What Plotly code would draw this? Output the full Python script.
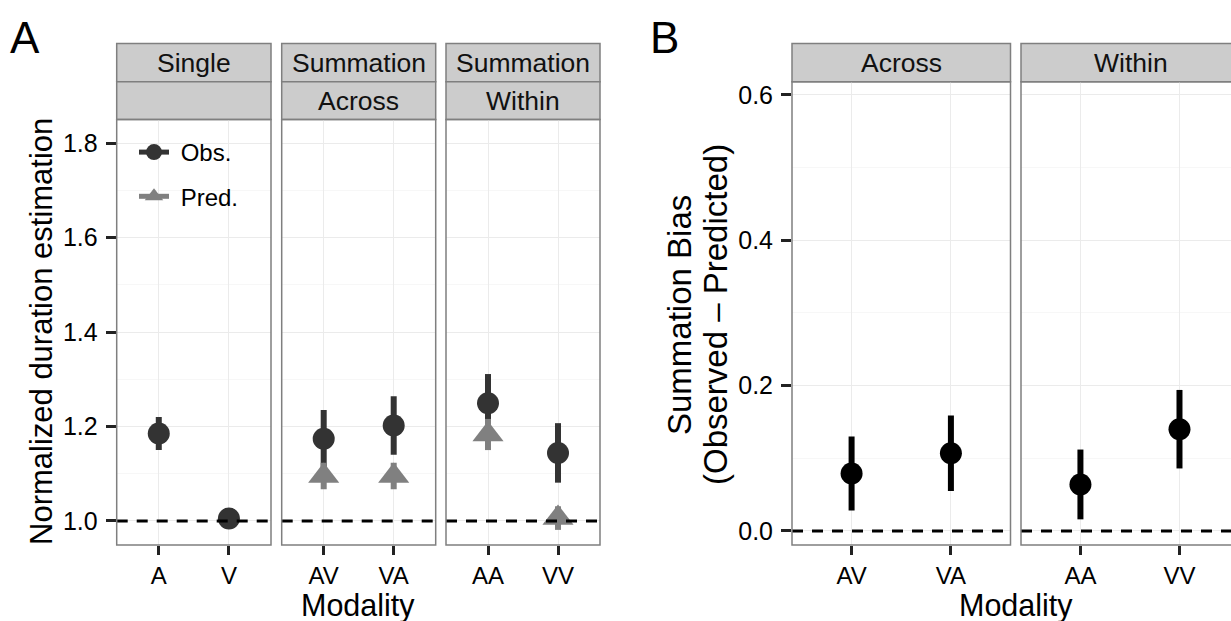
import plotly.graph_objects as go

W, H = 1231, 621

# ---------------- data ----------------
single_cats = ["A", "V"]
single_obs = [1.185, 1.005]
single_obs_err = [0.035, 0.010]

across_cats = ["AV", "VA"]
across_obs = [1.174, 1.202]
across_obs_err = [0.061, 0.062]
across_pred = [1.095, 1.095]
across_pred_err = [0.028, 0.028]

within_cats = ["AA", "VV"]
within_obs = [1.249, 1.144]
within_obs_err = [0.062, 0.063]
within_pred = [1.183, 1.006]
within_pred_err = [0.033, 0.025]

bias_across_cats = ["AV", "VA"]
bias_across = [0.079, 0.107]
bias_across_err = [0.051, 0.052]
bias_within_cats = ["AA", "VV"]
bias_within = [0.064, 0.140]
bias_within_err = [0.048, 0.054]

ref_A = 1.0
ref_B = 0.0

strip_A_top = ["Single", "Summation", "Summation"]
strip_A_bottom = ["", "Across", "Within"]
strip_B = ["Across", "Within"]

# ---------------- style ----------------
FONT = "Liberation Sans, Arial, Helvetica, sans-serif"
OBS = "#333333"
PRED = "#808080"
BORDER = "#7f7f7f"
STRIP = "#cccccc"
GRID = "#ebebeb"
MINOR = "#f7f7f7"
TICKF = 24


def px(x):
    return x / W


def py(y):
    return 1 - y / H


fig = go.Figure()


def pr(x, y, err, color, symbol, size, xa, ya, name=None):
    fig.add_trace(go.Scatter(
        x=x, y=y, mode="markers", xaxis=xa, yaxis=ya, showlegend=False,
        marker=dict(color=color, symbol=symbol, size=size),
        error_y=dict(type="data", array=err, color=color, thickness=6, width=0),
        hoverinfo="x+y", name=name or ""))


pr(single_cats, single_obs, single_obs_err, OBS, "circle", 22, "x", "y", "Obs.")
pr(across_cats, across_obs, across_obs_err, OBS, "circle", 22, "x2", "y2", "Obs.")
pr(across_cats, across_pred, across_pred_err, PRED, "triangle-up", 27, "x2", "y2", "Pred.")
pr(within_cats, within_obs, within_obs_err, OBS, "circle", 22, "x3", "y3", "Obs.")
pr(within_cats, within_pred, within_pred_err, PRED, "triangle-up", 27, "x3", "y3", "Pred.")
pr(bias_across_cats, bias_across, bias_across_err, "#000000", "circle", 22, "x4", "y4")
pr(bias_within_cats, bias_within, bias_within_err, "#000000", "circle", 22, "x5", "y5")

# legend entries
for nm, col, sym, grp in [("\u00a0Obs.", OBS, "circle", "o"), ("\u00a0Pred.", PRED, "triangle-up", "p")]:
    fig.add_trace(go.Scatter(
        x=[None], y=[None], mode="lines+markers", name=nm, legendgroup=grp,
        xaxis="x", yaxis="y", showlegend=True,
        line=dict(color=col, width=5), marker=dict(color=col, symbol=sym, size=20)))

# ---------------- axes ----------------
A_y = (119.5, 545)
B_y = (81.7, 545)
panels = {
    "": ((116.7, 271), A_y, [-0.6, 1.6], single_cats),
    "2": ((281.7, 435.7), A_y, [-0.6, 1.6], across_cats),
    "3": ((446, 600), A_y, [-0.6, 1.6], within_cats),
    "4": ((792, 1010.5), B_y, [-0.6, 1.6], bias_across_cats),
    "5": ((1021, 1231), B_y, [-0.6, 1.52], bias_within_cats),
}

layout = dict(
    width=W, height=H, margin=dict(l=0, r=0, t=0, b=0),
    paper_bgcolor="white", plot_bgcolor="white",
    font=dict(family=FONT, color="#000000"),
    showlegend=True,
    legend=dict(x=px(134), y=py(130), xanchor="left", yanchor="top",
                bgcolor="rgba(0,0,0,0)", font=dict(size=24, family=FONT),
                tracegroupgap=10),
)

for k, ((x0, x1), (yt, yb), xr, cats) in panels.items():
    ax = "xaxis" + k
    ay = "yaxis" + k
    isA = k in ("", "2", "3")
    layout[ax] = dict(
        domain=[px(x0), px(x1)], anchor="y" + k, type="category",
        categoryorder="array", categoryarray=cats, range=xr,
        showgrid=True, gridcolor=GRID, gridwidth=1.2, zeroline=False, showline=False,
        ticks="outside", ticklen=9, tickwidth=2.5, tickcolor="#222222",
        tickfont=dict(size=TICKF, family=FONT, color="#000000"), fixedrange=True,
    )
    showy = k in ("", "4")
    layout[ay] = dict(
        domain=[py(yb), py(yt)], anchor="x" + k,
        range=[0.949, 1.850] if isA else [-0.0193, 0.618],
        dtick=0.2, tick0=0, tickformat=".1f",
        showgrid=True, gridcolor=GRID, gridwidth=1.2, zeroline=False, showline=False,
        minor=dict(dtick=0.1, tick0=0, showgrid=True, gridcolor=MINOR, gridwidth=1.2),
        ticks="outside" if showy else "", ticklen=10, tickwidth=2.5, tickcolor="#222222",
        showticklabels=showy, ticklabelstandoff=3,
        tickfont=dict(size=25, family=FONT, color="#000000"), fixedrange=True,
    )

fig.update_layout(**layout)

shapes = []
annotations = []

# dashed reference lines
for k in ["", "2", "3", "4", "5"]:
    yref = ref_A if k in ("", "2", "3") else ref_B
    shapes.append(dict(type="line", xref=("x" + k) + " domain", yref="y" + k,
                       x0=0, x1=1, y0=yref, y1=yref, layer="above",
                       line=dict(color="#000000", width=3, dash="11px,9px")))

# panel borders
for k, ((x0, x1), (yt, yb), xr, cats) in panels.items():
    xx1 = x1 if k != "5" else 1240
    shapes.append(dict(type="rect", xref="paper", yref="paper",
                       x0=px(x0), x1=px(xx1), y0=py(yb), y1=py(yt), layer="above",
                       line=dict(color=BORDER, width=1.5), fillcolor="rgba(0,0,0,0)"))

STRIPF = 26.5
# strips A
A_x = [(116.7, 271), (281.7, 435.7), (446, 600)]
for (x0, x1), t1, t2 in zip(A_x, strip_A_top, strip_A_bottom):
    for (y0, y1), t in [((43.5, 81.7), t1), ((81.7, 119.5), t2)]:
        shapes.append(dict(type="rect", xref="paper", yref="paper",
                           x0=px(x0), x1=px(x1), y0=py(y1), y1=py(y0),
                           line=dict(color=BORDER, width=1.5), fillcolor=STRIP, layer="below"))
        if t:
            annotations.append(dict(text=t, xref="paper", yref="paper",
                                    x=px((x0 + x1) / 2), y=py((y0 + y1) / 2),
                                    xanchor="center", yanchor="middle", showarrow=False,
                                    font=dict(size=STRIPF, family=FONT, color="#111111")))
# strips B
B_x = [(792, 1010.5), (1021, 1240)]
for (x0, x1), t in zip(B_x, strip_B):
    shapes.append(dict(type="rect", xref="paper", yref="paper",
                       x0=px(x0), x1=px(x1), y0=py(81.7), y1=py(43.5),
                       line=dict(color=BORDER, width=1.5), fillcolor=STRIP, layer="below"))
    annotations.append(dict(text=t, xref="paper", yref="paper",
                            x=px((x0 + x1) / 2), y=py((43.5 + 81.7) / 2),
                            xanchor="center", yanchor="middle", showarrow=False,
                            font=dict(size=STRIPF, family=FONT, color="#111111")))

# titles
def ann(text, x, y, size, angle=0):
    annotations.append(dict(text=text, xref="paper", yref="paper", x=px(x), y=py(y),
                            xanchor="center", yanchor="middle", showarrow=False,
                            textangle=angle, font=dict(size=size, family=FONT, color="#000000")))

ann("A", 25, 37, 44)
ann("B", 664, 37, 44)
ann("Normalized duration estimation", 41, 332, 31, -90)
ann("Summation Bias", 679, 315, 33, -90)
ann("(Observed \u2013 Predicted)", 715, 315, 33, -90)
ann("Modality", 358, 605, 30.5)
ann("Modality", 1016, 605, 30.5)

fig.update_layout(shapes=shapes, annotations=annotations)

fig.write_html(
    "out.html",
    config={"displayModeBar": False},
    post_script="document.body.style.margin='0';document.body.style.overflow='hidden';",
)
